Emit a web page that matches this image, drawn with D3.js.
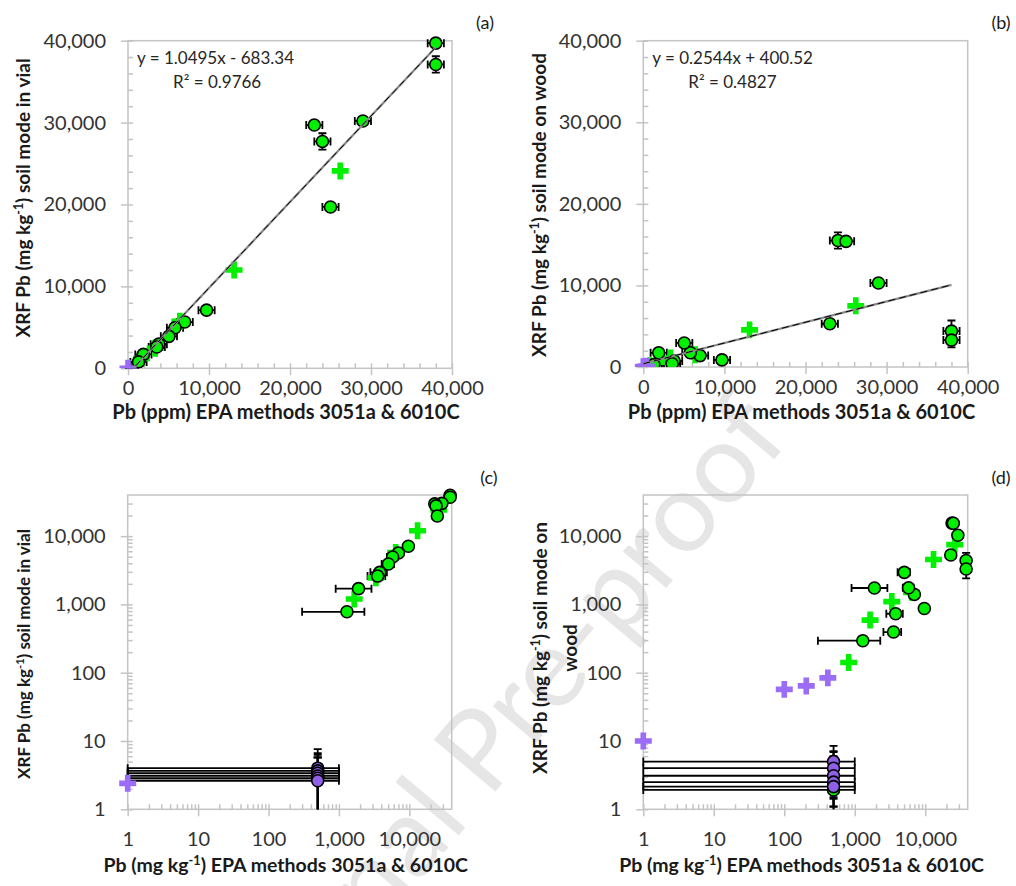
<!DOCTYPE html>
<html>
<head>
<meta charset="utf-8">
<script src="https://cdn.jsdelivr.net/npm/d3@7"></script>
<style>
  body { margin: 0; background: #fff; }
  text { font-family: Lato, "Open Sans", sans-serif; }
</style>
</head>
<body>
<svg id="fig" width="1016" height="886"></svg>
<script>

/************************************************************************************************************/
// data

// green circles : EPA Pb (x) vs XRF in vial / on wood
var circleX       = [38000, 38000, 29000, 23000, 24000, 25000, 9700, 7000, 5800, 5050, 3800, 3550, 1900, 1300, 500];
var circleXErr    = [1000, 1000, 1000, 1000, 1000, 1000, 1000, 1000, 1000, 1000, 1000, 1000, 1000, 1000, 500];
var circleVial    = [39700, 37100, 30200, 29700, 27700, 19700, 7100, 5650, 4950, 3900, 2950, 2600, 1700, 780, null];
var circleVialErr = [300, 1000, 0, 0, 1000, 0, 0, 0, 0, 0, 0, 0, 0, 0, 0];
var circleWood    = [4400, 3300, 10300, 5300, 15500, 15400, 870, 1400, 1750, 2950, 730, 394, 1740, 294, 1.92];
var circleWoodErr = [1300, 900, 0, 0, 1000, 0, 0, 0, 0, 0, 0, 0, 0, 0, 0.5];

// green crosses
var crossX    = [26200, 13100, 6400, 3350, 1650, 820];
var crossVial = [24100, 12000, 5750, 2450, 1200, null];
var crossWood = [7500, 4550, 1500, 1100, 590, 141];

// purple crosses
var purpleCrossX    = [1, 100, 205, 415];
var purpleCrossVial = [2.4, null, null, null];
var purpleCrossWood = [10, 57, 64, 84];

// purple circles (x = 500 +/- 500)
var purpleCircleX       = [500, 500, 500, 500, 500, 500];
var purpleCircleXErr    = [500, 500, 500, 500, 500, 500];
var purpleCircleVial    = [4.0, 3.65, 3.37, 3.08, 2.85, 2.62];
var purpleCircleVialErr = [3.6, 3.0, 2.4, 3.2, 2.9, 3.1];
var purpleCircleWood    = [5.0, 4.0, 3.1, 2.5, 2.15, null];
var purpleCircleWoodErr = [3.5, 2.9, 4.0, 3.5, 1.06, 0];

// linear trendlines
var fitVial = [1.0495, -683.34];
var fitWood = [0.2544, 400.52];
var eqVial = ["y = 1.0495x - 683.34", "R² = 0.9766"];
var eqWood = ["y = 0.2544x + 400.52", "R² = 0.4827"];

var linMajor = [0, 10000, 20000, 30000, 40000];
var logMajor = [1, 10, 100, 1000, 10000];

/************************************************************************************************************/

var svg = d3.select("#fig");
var GREEN = "#00f000", PURPLE = "#9b6cf5", PURPLE_C = "#8f5fe8", AXIS = "#c4c4c4";

// watermark (behind everything else)
svg.append("text")
  .attr("transform", "translate(792,438) rotate(-50)")
  .attr("text-anchor", "end").attr("font-size", 112)
  .attr("font-family", "'Open Sans', sans-serif")
  .attr("fill", "#e6e6e6")
  .text("Journal Pre-proof");

function zip(xs, ys, xe, ye){
  var out = [];
  for(var i = 0; i < xs.length; i++){
    if(ys[i] === null || ys[i] === undefined) continue;
    out.push({x: xs[i], y: ys[i], xe: xe ? xe[i] : 0, ye: ye ? ye[i] : 0});
  }
  return out;
}

function drawPanel(p){

  var g = svg.append("g");
  var lo = p.log ? 1 : 0;

  var x = (p.log ? d3.scaleLog() : d3.scaleLinear()).domain([lo, 40000]).range([p.x0, p.x1]);
  var y = (p.log ? d3.scaleLog() : d3.scaleLinear()).domain([lo, 40000]).range([p.y1, p.y0]);

  var major = p.log ? logMajor : linMajor;
  var minor = [];
  if(p.log){
    logMajor.forEach(function(d){
      for(var k = 2; k <= 9; k++) if(d * k < 40000) minor.push(d * k);
    });
  }else{
    minor = d3.range(0, 40001, 2000).filter(function(v){ return v % 10000; });
  }
  var fmt = d3.format(",");

  //frame
  g.append("rect").attr("x", p.x0).attr("y", p.y0)
    .attr("width", p.x1 - p.x0).attr("height", p.y1 - p.y0)
    .attr("fill", "none").attr("stroke", AXIS).attr("stroke-width", 1.5);

  //outside ticks + labels
  var ax = g.append("g").attr("transform", "translate(0," + p.y1 + ")")
    .call(d3.axisBottom(x).tickValues(major).tickSize(7).tickPadding(p.xPad).tickFormat(fmt));
  var ay = g.append("g").attr("transform", "translate(" + p.x0 + ",0)")
    .call(d3.axisLeft(y).tickValues(major).tickSize(7).tickPadding(15).tickFormat(fmt));

  //inside ticks (major + minor)
  var ix = g.append("g").attr("transform", "translate(0," + p.y1 + ")")
    .call(d3.axisTop(x).tickValues(major.concat(minor)).tickSize(5).tickFormat(""));
  var iy = g.append("g").attr("transform", "translate(" + p.x0 + ",0)")
    .call(d3.axisRight(y).tickValues(major.concat(minor)).tickSize(5).tickFormat(""));

  [ax, ay, ix, iy].forEach(function(a){
    a.select(".domain").remove();
    a.selectAll("line").attr("stroke", AXIS).attr("stroke-width", 1.5);
    a.selectAll("text").attr("font-size", 20).attr("fill", "#333").attr("font-family", "Lato, 'Open Sans', sans-serif");
  });

  //clip
  var clipId = "clip" + p.id;
  svg.append("clipPath").attr("id", clipId).append("rect")
    .attr("x", p.x0 - 10).attr("y", p.y0 - 10)
    .attr("width", p.x1 - p.x0 + 20).attr("height", p.y1 - p.y0 + 10);
  var c = g.append("g").attr("clip-path", "url(#" + clipId + ")");

  function errBars(data){
    var eb = c.append("g").attr("stroke", "#000").attr("stroke-width", 1.8).attr("fill", "none");
    data.forEach(function(d){
      var cy = y(d.y), cx = x(d.x);
      if(d.xe){
        var xa = Math.max(d.x - d.xe, lo), xb = d.x + d.xe;
        var pa = (d.x - d.xe <= 0 && p.log) ? p.x0 : x(xa), pb = x(xb);
        eb.append("line").attr("x1", pa).attr("x2", pb).attr("y1", cy).attr("y2", cy);
        eb.append("line").attr("x1", pa).attr("x2", pa).attr("y1", cy - 4).attr("y2", cy + 4);
        eb.append("line").attr("x1", pb).attr("x2", pb).attr("y1", cy - 4).attr("y2", cy + 4);
      }
      if(d.ye){
        var ya = d.y - d.ye, yb = d.y + d.ye;
        var qa = (ya <= lo) ? p.y1 + 5 : y(ya), qb = y(yb);
        eb.append("line").attr("x1", cx).attr("x2", cx).attr("y1", qa).attr("y2", qb);
        if(ya > lo) eb.append("line").attr("x1", cx - 4).attr("x2", cx + 4).attr("y1", qa).attr("y2", qa);
        eb.append("line").attr("x1", cx - 4).attr("x2", cx + 4).attr("y1", qb).attr("y2", qb);
      }
    });
  }

  var cross = d3.symbol().type(d3.symbolCross).size(160);

  function crosses(data, col){
    c.append("g").selectAll("path").data(data).join("path")
      .attr("d", cross)
      .attr("transform", function(d){ return "translate(" + x(d.x) + "," + y(d.y) + ")"; })
      .attr("fill", col);
  }

  function circles(data, col){
    c.append("g").selectAll("circle").data(data).join("circle")
      .attr("cx", function(d){ return x(d.x); })
      .attr("cy", function(d){ return y(d.y); })
      .attr("r", 6).attr("fill", col).attr("stroke", "#000").attr("stroke-width", 1.6);
  }

  var pc = zip(purpleCircleX, p.purpleCircleY, purpleCircleXErr, p.purpleCircleErr);
  var gc = zip(circleX, p.circleY, circleXErr, p.circleErr);
  var pcLow = gc.filter(function(d){ return d.y < 100; });
  var gcHigh = gc.filter(function(d){ return d.y >= 100; });

  errBars(pcLow);
  errBars(pc);
  circles(pcLow, GREEN);
  circles(pc, PURPLE_C);
  errBars(gcHigh);
  crosses(zip(crossX, p.crossY), GREEN);
  circles(gcHigh, GREEN);
  crosses(zip(purpleCrossX, p.purpleCrossY), PURPLE);

  //trendline
  if(p.fit){
    var xs = [d3.min(circleX.concat(crossX, purpleCrossX)), d3.max(circleX)];
    var line = d3.line().x(function(d){ return x(d); }).y(function(d){ return y(p.fit[0] * d + p.fit[1]); });
    var lc = g.append("g").attr("clip-path", "url(#" + clipId + "b)");
    svg.append("clipPath").attr("id", clipId + "b").append("rect")
      .attr("x", p.x0).attr("y", p.y0).attr("width", p.x1 - p.x0).attr("height", p.y1 - p.y0);
    lc.append("path").attr("d", line(xs)).attr("fill", "none").attr("stroke", "#8a8a8a").attr("stroke-width", 2.2);
    lc.append("path").attr("d", line(xs)).attr("fill", "none").attr("stroke", "#000")
      .attr("stroke-width", 1).attr("stroke-dasharray", "7,4");

    g.append("text").attr("x", p.x0 + 9).attr("y", p.y0 + 23).attr("font-size", 17).attr("fill", "#262626").text(p.eq[0]);
    g.append("text").attr("x", p.x0 + 45).attr("y", p.y0 + 47).attr("font-size", 17).attr("fill", "#262626").text(p.eq[1]);
  }

  //axis titles
  var xt = g.append("text").attr("x", (p.x0 + p.x1) / 2 - 4).attr("y", p.xTitleY)
    .attr("text-anchor", "middle").attr("font-size", p.xTitleSize).attr("font-weight", "bold").attr("fill", "#1a1a1a");
  supText(xt, p.xTitle);

  p.yTitle.forEach(function(t, i){
    var yt = g.append("text")
      .attr("transform", "translate(" + (p.yTitleX + i * 30) + "," + p.yTitleC + ") rotate(-90)")
      .attr("text-anchor", "middle").attr("font-size", p.yTitleSize).attr("font-weight", "bold").attr("fill", "#1a1a1a");
    supText(yt, t);
  });

  g.append("text").attr("x", p.labX).attr("y", p.labY).attr("text-anchor", "middle")
    .attr("font-size", 18).attr("fill", "#1a1a1a").text(p.label);
}

// "a^-1^b" -> superscript tspan
function supText(sel, str){
  var parts = str.split("^");
  parts.forEach(function(s, i){
    if(!s) return;
    var t = sel.append("tspan").text(s);
    if(i % 2 === 1) t.attr("font-size", "0.65em").attr("dy", "-0.55em");
    else if(i > 0) t.attr("dy", "0.36em");
  });
}

var yVial = "XRF Pb (mg kg^-1^) soil mode in vial";

drawPanel({id: "a", log: false, x0: 128, x1: 452, y0: 40.7, y1: 368.3, xPad: 6,
  circleY: circleVial, circleErr: circleVialErr, crossY: crossVial, purpleCrossY: purpleCrossVial,
  purpleCircleY: purpleCircleVial, purpleCircleErr: purpleCircleVialErr,
  fit: fitVial, eq: eqVial,
  xTitle: "Pb (ppm) EPA methods 3051a & 6010C", xTitleY: 419, xTitleSize: 20,
  yTitle: [yVial], yTitleX: 30, yTitleC: 198, yTitleSize: 19, label: "(a)", labX: 485, labY: 29});

drawPanel({id: "b", log: false, x0: 643.3, x1: 967.7, y0: 40.7, y1: 367, xPad: 6,
  circleY: circleWood, circleErr: circleWoodErr, crossY: crossWood, purpleCrossY: purpleCrossWood,
  purpleCircleY: purpleCircleWood, purpleCircleErr: purpleCircleWoodErr,
  fit: fitWood, eq: eqWood,
  xTitle: "Pb (ppm) EPA methods 3051a & 6010C", xTitleY: 419, xTitleSize: 20,
  yTitle: ["XRF Pb (mg kg^-1^) soil mode on wood"], yTitleX: 546, yTitleC: 205, yTitleSize: 19,
  label: "(b)", labX: 1001, labY: 29});

drawPanel({id: "c", log: true, x0: 127.7, x1: 451.7, y0: 495, y1: 809.3, xPad: 16,
  circleY: circleVial, circleErr: circleVialErr, crossY: crossVial, purpleCrossY: purpleCrossVial,
  purpleCircleY: purpleCircleVial, purpleCircleErr: purpleCircleVialErr,
  xTitle: "Pb (mg kg^-1^) EPA methods 3051a & 6010C", xTitleY: 872, xTitleSize: 19.5,
  yTitle: [yVial], yTitleX: 30, yTitleC: 654, yTitleSize: 17, label: "(c)", labX: 489, labY: 484});

drawPanel({id: "d", log: true, x0: 643.3, x1: 967.7, y0: 495, y1: 809.3, xPad: 16,
  circleY: circleWood, circleErr: circleWoodErr, crossY: crossWood, purpleCrossY: purpleCrossWood,
  purpleCircleY: purpleCircleWood, purpleCircleErr: purpleCircleWoodErr,
  xTitle: "Pb (mg kg^-1^) EPA methods 3051a & 6010C", xTitleY: 872, xTitleSize: 19.5,
  yTitle: ["XRF Pb (mg kg^-1^) soil mode on", "wood"], yTitleX: 547, yTitleC: 648, yTitleSize: 19,
  label: "(d)", labX: 1001, labY: 484});

</script>
</body>
</html>
